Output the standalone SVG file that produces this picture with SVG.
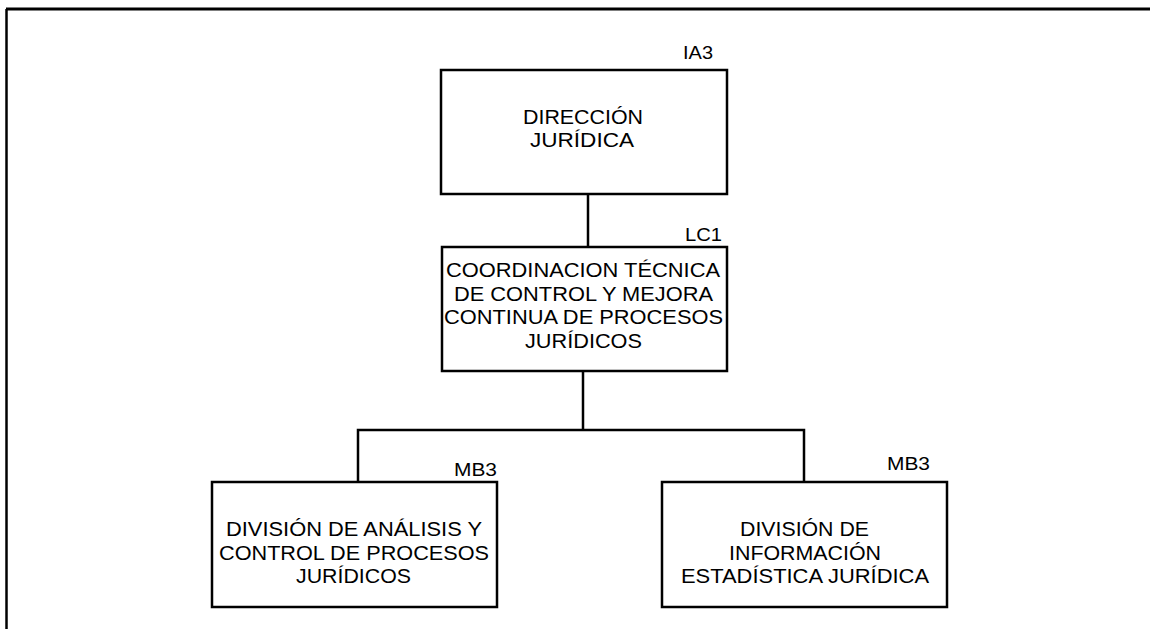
<svg xmlns="http://www.w3.org/2000/svg" width="1150" height="629" viewBox="0 0 1150 629">
<style>
.box{fill:#fff;stroke:#000;stroke-width:2.5}
.ln{fill:none;stroke:#000;stroke-width:2.5}
.t{font-family:"Liberation Sans",Arial,sans-serif;font-size:20px;fill:#000}
.lb{font-family:"Liberation Sans",Arial,sans-serif;font-size:18.5px;fill:#000}
</style>
<rect width="1150" height="629" fill="#fff"/>
<g id="frame">
<line x1="6" y1="9" x2="1150" y2="9" stroke="#000" stroke-width="3"/>
<line x1="6.5" y1="9" x2="6.5" y2="629" stroke="#000" stroke-width="2.5"/>
</g>
<g id="connectors">
<line class="ln" x1="588" y1="194" x2="588" y2="247"/>
<line class="ln" x1="583" y1="371" x2="583" y2="430"/>
<polyline class="ln" points="358,482 358,430 804,430 804,482"/>
</g>
<g id="n1">
<rect class="box" x="441" y="70" width="286" height="124"/>
<text class="lb" x="683" y="59" textLength="30" lengthAdjust="spacingAndGlyphs">IA3</text>
<text class="t" x="523" y="124" textLength="120" lengthAdjust="spacingAndGlyphs">DIRECCIÓN</text>
<text class="t" x="530" y="147" textLength="104" lengthAdjust="spacingAndGlyphs">JURÍDICA</text>
</g>
<g id="n2">
<rect class="box" x="442" y="247" width="285" height="124"/>
<text class="lb" x="685" y="241" textLength="37" lengthAdjust="spacingAndGlyphs">LC1</text>
<text class="t" x="446" y="277" textLength="274" lengthAdjust="spacingAndGlyphs">COORDINACION TÉCNICA</text>
<text class="t" x="454" y="300.5" textLength="259" lengthAdjust="spacingAndGlyphs">DE CONTROL Y MEJORA</text>
<text class="t" x="444" y="324" textLength="279" lengthAdjust="spacingAndGlyphs">CONTINUA DE PROCESOS</text>
<text class="t" x="525" y="347.5" textLength="117" lengthAdjust="spacingAndGlyphs">JURÍDICOS</text>
</g>
<g id="n3">
<rect class="box" x="212" y="482" width="285" height="125"/>
<text class="lb" x="454" y="476" textLength="43" lengthAdjust="spacingAndGlyphs">MB3</text>
<text class="t" x="226" y="536" textLength="256" lengthAdjust="spacingAndGlyphs">DIVISIÓN DE ANÁLISIS Y</text>
<text class="t" x="219" y="560" textLength="270" lengthAdjust="spacingAndGlyphs">CONTROL DE PROCESOS</text>
<text class="t" x="296" y="583" textLength="115" lengthAdjust="spacingAndGlyphs">JURÍDICOS</text>
</g>
<g id="n4">
<rect class="box" x="662" y="482" width="285" height="125"/>
<text class="lb" x="887" y="470" textLength="43" lengthAdjust="spacingAndGlyphs">MB3</text>
<text class="t" x="740" y="536" textLength="129" lengthAdjust="spacingAndGlyphs">DIVISIÓN DE</text>
<text class="t" x="729" y="560" textLength="152" lengthAdjust="spacingAndGlyphs">INFORMACIÓN</text>
<text class="t" x="681" y="583" textLength="248" lengthAdjust="spacingAndGlyphs">ESTADÍSTICA JURÍDICA</text>
</g>
</svg>
